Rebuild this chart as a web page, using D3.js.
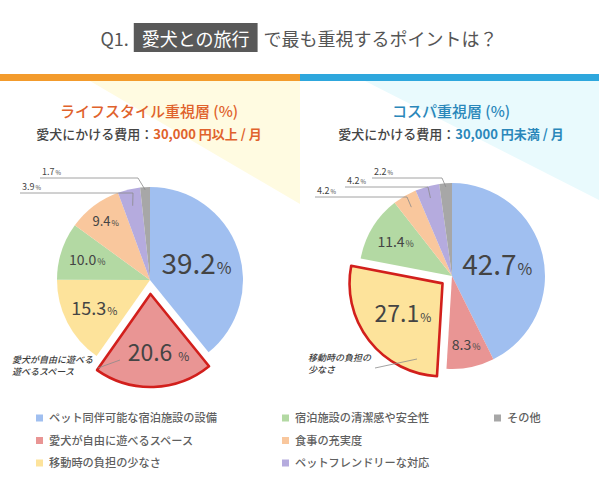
<!DOCTYPE html>
<html>
<head>
<meta charset="utf-8">
<script src="https://cdn.jsdelivr.net/npm/d3@7"></script>
<style>
  html, body { margin: 0; padding: 0; background: #fff; }
  svg { display: block; font-family: "Noto Sans CJK JP", "Noto Sans", sans-serif; }
</style>
</head>
<body>
<svg id="chart" width="599" height="496"></svg>
<script>
// categories in pie order (clockwise from 12 o'clock)
const categories = [
  'ペット同伴可能な宿泊施設の設備',
  '愛犬が自由に遊べるスペース',
  '移動時の負担の少なさ',
  '宿泊施設の清潔感や安全性',
  '食事の充実度',
  'ペットフレンドリーな対応',
  'その他'
]
// % values
const lifestyleValues = [39.2, 20.6, 15.3, 10.0, 9.4, 3.9, 1.7]
const cospaValues = [42.7, 8.3, 27.1, 11.4, 4.2, 4.2, 2.2]
const colors = ['#a0bff0', '#e99594', '#fde39b', '#b3d9a3', '#f9c79d', '#b5abde', '#a7a7a7']

const svg = d3.select('#chart')
const R = 93
const labelColor = '#444'

// background triangles
svg.append('polygon').attr('points', '90,81 300,81 300,204').attr('fill', '#fffbe1')
svg.append('polygon').attr('points', '365,81 599,81 599,200').attr('fill', '#e9fafd')

// top colour bars
svg.append('rect').attr('x', 0).attr('y', 74).attr('width', 300).attr('height', 7).attr('fill', '#f39b2c')
svg.append('rect').attr('x', 300).attr('y', 74).attr('width', 299).attr('height', 7).attr('fill', '#2ea7dd')

// Title
drawTitle = () => {
  let g = svg.append('g')
  let q = g.append('text').attr('y', 46).attr('font-size', 18).attr('fill', '#555').text('Q1.')
  let boxText = g.append('text').attr('y', 46).attr('font-size', 18).attr('fill', '#fff').text('愛犬との旅行')
  let rest = g.append('text').attr('y', 46).attr('font-size', 18).attr('fill', '#555').text('で最も重視するポイントは？')
  let wq = q.node().getComputedTextLength()
  let wb = boxText.node().getComputedTextLength()
  let wr = rest.node().getComputedTextLength()
  let pad = 8
  let total = wq + 5 + wb + pad * 2 + 6 + wr
  let x0 = 299 - total / 2
  q.attr('x', x0)
  let bx = x0 + wq + 5
  g.insert('rect', 'text:nth-child(2)')
    .attr('x', bx).attr('y', 23).attr('width', wb + pad * 2).attr('height', 29)
    .attr('fill', '#595959')
  boxText.attr('x', bx + pad)
  rest.attr('x', bx + wb + pad * 2 + 6)
}
drawTitle()

// panel headings
drawHeading = (cx, title, amount, color) => {
  svg.append('text').attr('x', cx).attr('y', 117).attr('text-anchor', 'middle')
    .attr('font-size', 15).attr('font-weight', 500).attr('fill', color).text(title)
  let t = svg.append('text').attr('x', cx).attr('y', 139).attr('text-anchor', 'middle')
    .attr('font-size', 13).attr('font-weight', 500).attr('fill', '#444')
  t.append('tspan').text('愛犬にかける費用：')
  t.append('tspan').attr('fill', color).attr('font-weight', 'bold').text(amount)
}
drawHeading(149, 'ライフスタイル重視層 (%)', '30,000 円以上 / 月', '#e0622c')
drawHeading(451, 'コスパ重視層 (%)', '30,000 円未満 / 月', '#2a87ba')

// Pie
drawPie = (opt) => {
  let g = svg.append('g').attr('transform', `translate(${opt.cx},${opt.cy})`)
  let arcs = d3.pie().sort(null).value(d => d)(opt.values)
  let arc = d3.arc().innerRadius(0).outerRadius(R)
  arcs.forEach((a, i) => {
    let mid = (a.startAngle + a.endAngle) / 2
    let off = i === opt.explode ? opt.explodeBy : 0
    a.index = i
    a.shift = [Math.sin(mid) * off, -Math.cos(mid) * off]
  })
  let order = arcs.filter(a => a.index !== opt.explode).concat(arcs.filter(a => a.index === opt.explode))
  g.selectAll('path.slice').data(order).join('path')
    .attr('class', 'slice')
    .attr('transform', d => `translate(${d.shift[0]},${d.shift[1]})`)
    .attr('d', arc)
    .attr('fill', d => colors[d.index])
    .attr('stroke', d => d.index === opt.explode ? '#d21f1c' : 'none')
    .attr('stroke-width', 2.6)
    .attr('stroke-linejoin', 'round')

  // labels inside slices
  opt.inner.forEach(l => {
    let a = arcs[l.i]
    let c = d3.arc().innerRadius(R * l.f).outerRadius(R * l.f).centroid(a)
    let x = c[0] + a.shift[0] + (l.dx || 0)
    let y = c[1] + a.shift[1] + l.size * 0.36
    let t = g.append('text').attr('x', x).attr('y', y).attr('text-anchor', 'middle')
      .attr('fill', labelColor).attr('font-size', l.size)
    t.append('tspan').text(opt.values[l.i].toFixed(1))
    t.append('tspan').attr('font-size', l.pct).attr('dx', l.gap || 1).text('%')
  })

  // small slices with leader lines
  opt.leaders.forEach(l => {
    let a = arcs[l.i]
    let c = d3.arc().innerRadius(R * l.f).outerRadius(R * l.f).centroid(a)
    let end = [opt.cx + c[0], opt.cy + c[1]]
    svg.append('polyline')
      .attr('points', [[l.startX, l.lineY], [l.elbowX, l.lineY], end].join(' '))
      .attr('fill', 'none').attr('stroke', '#8a8a8a').attr('stroke-width', 0.8)
    let t = svg.append('text').attr('x', l.startX + 2).attr('y', l.lineY - 3)
      .attr('fill', labelColor).attr('font-size', 9)
    t.append('tspan').text(opt.values[l.i].toFixed(1))
    t.append('tspan').attr('font-size', 6).attr('dx', 1).text('%')
  })

  // callout for the exploded slice
  let co = opt.callout
  svg.append('line')
    .attr('x1', co.from[0]).attr('y1', co.from[1]).attr('x2', co.to[0]).attr('y2', co.to[1])
    .attr('stroke', '#8a8a8a').attr('stroke-width', 0.8)
  co.lines.forEach((s, k) => {
    svg.append('text').attr('x', co.x).attr('y', co.y + k * 12)
      .attr('font-size', 9).attr('font-style', 'italic').attr('font-weight', 500)
      .attr('fill', '#3c3c3c').text(s)
  })
}

drawPie({
  cx: 150, cy: 280, values: lifestyleValues, explode: 1, explodeBy: 14,
  inner: [
    { i: 0, f: 0.53, size: 28, pct: 16 },
    { i: 1, f: 0.63, size: 23, pct: 12, gap: 6, dx: 6 },
    { i: 2, f: 0.675, size: 18, pct: 11 },
    { i: 3, f: 0.71, size: 14, pct: 9 },
    { i: 4, f: 0.79, size: 13, pct: 8 }
  ],
  leaders: [
    { i: 5, f: 0.82, lineY: 193, startX: 20, elbowX: 133 },
    { i: 6, f: 0.97, lineY: 178, startX: 40, elbowX: 138 }
  ],
  callout: { lines: ['愛犬が自由に遊べる', '遊べるスペース'], x: 12, y: 363, from: [98, 368], to: [120, 360] }
})

drawPie({
  cx: 452, cy: 276, values: cospaValues, explode: 2, explodeBy: 12,
  inner: [
    { i: 0, f: 0.5, size: 28, pct: 16 },
    { i: 1, f: 0.76, size: 14, pct: 9 },
    { i: 2, f: 0.54, size: 23, pct: 12 },
    { i: 3, f: 0.71, size: 14, pct: 9 }
  ],
  leaders: [
    { i: 4, f: 0.86, lineY: 197, startX: 315, elbowX: 407 },
    { i: 5, f: 0.87, lineY: 187, startX: 345, elbowX: 428 },
    { i: 6, f: 0.96, lineY: 178, startX: 372, elbowX: 442 }
  ],
  callout: { lines: ['移動時の負担の', '少なさ'], x: 308, y: 361, from: [375, 368], to: [417, 359] }
})

// Legend (3 rows, filled column by column)
const legendCols = [36, 282, 494]
let legend = svg.append('g')
categories.forEach((name, i) => {
  let x = legendCols[Math.floor(i / 3)]
  let y = 418 + (i % 3) * 22.5
  legend.append('rect').attr('x', x).attr('y', y - 3.5).attr('width', 7).attr('height', 7).attr('fill', colors[i])
  legend.append('text').attr('x', x + 13).attr('y', y + 4).attr('font-size', 11.2)
    .attr('font-weight', 500).attr('fill', '#5f5f5f').text(name)
})
</script>
</body>
</html>
